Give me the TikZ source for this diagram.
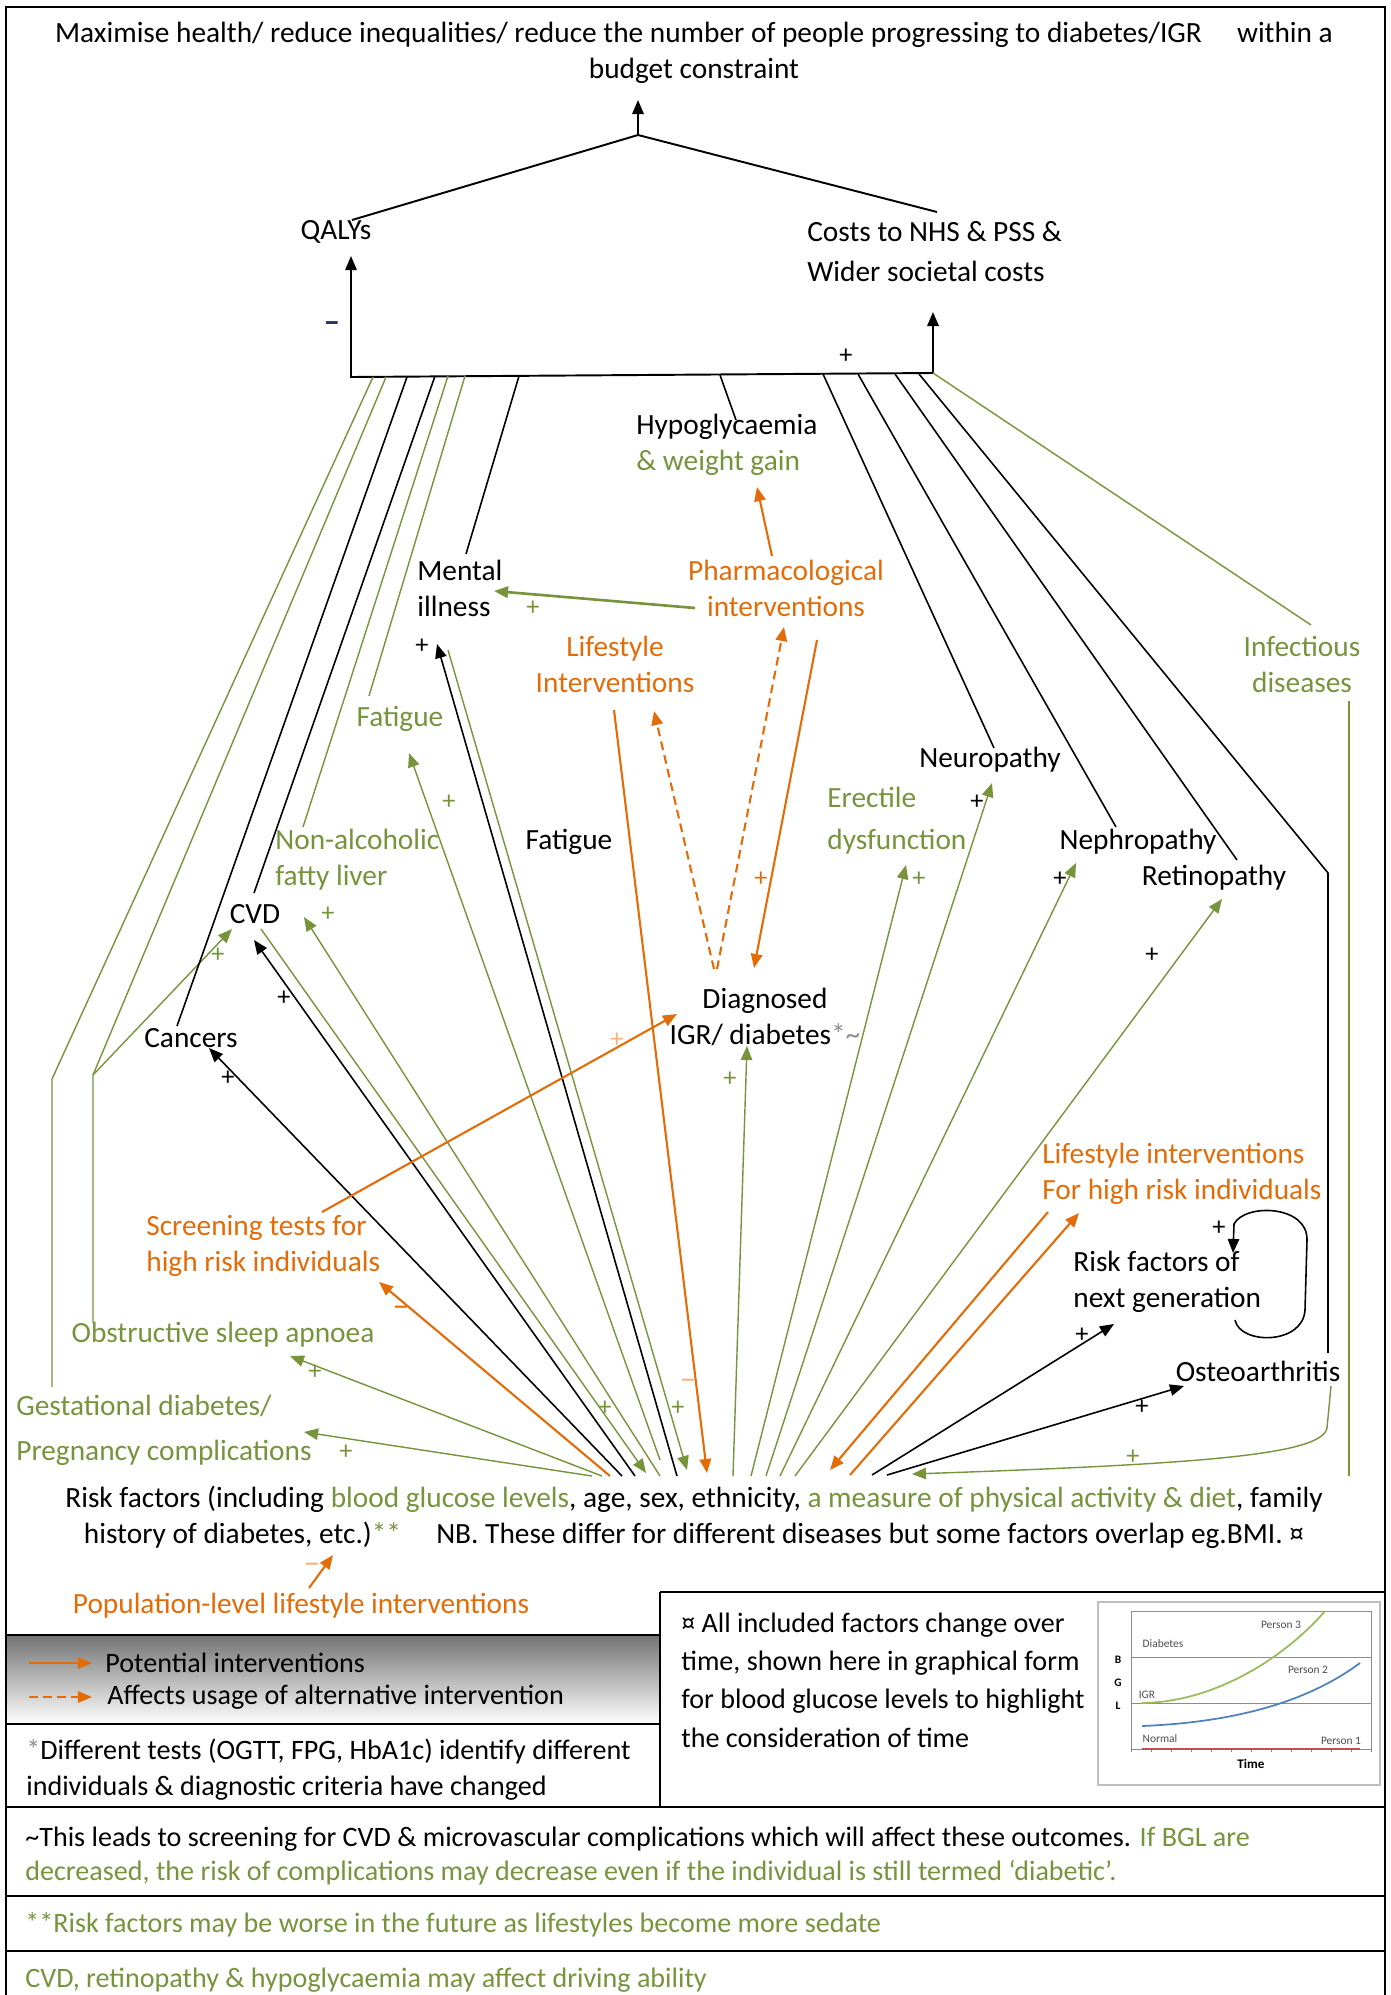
\documentclass[tikz,border=0pt]{standalone}
\usepackage{fontspec}
\setmainfont{Carlito}
\usetikzlibrary{arrows.meta}
\definecolor{grn}{HTML}{77933C}
\definecolor{org}{HTML}{E36C09}
\definecolor{lorg}{HTML}{F9B27C}
\definecolor{navy}{HTML}{1F3864}
\definecolor{pgrn}{HTML}{9BBB59}
\definecolor{pblu}{HTML}{4F81BD}
\definecolor{pred}{HTML}{C0504D}

\begin{document}
\begin{tikzpicture}[x=0.02cm,y=-0.02cm,
  every node/.style={font=\fontsize{16.7}{20.5}\selectfont,inner sep=0pt},
  note/.style={font=\fontsize{16}{20.5}\selectfont},
  kl/.style={black,line width=0.9pt},
  gl/.style={grn,line width=0.8pt},
  ol/.style={org,line width=1.2pt},
  dsh/.style={dash pattern=on 5pt off 3pt},
  tip/.style={-{Triangle[length=8pt,width=6.5pt]}},
  tips/.style={{Triangle[length=8pt,width=6.5pt]}-{Triangle[length=8pt,width=6.5pt]}},
  sg/.style={font=\fontsize{15}{15}\selectfont},
  boxline/.style={line width=1.2pt},
  tiny/.style={font=\fontsize{6.5}{7}\selectfont,black!70}]
\useasboundingbox (0,0) rectangle (1391,1995);

\node[align=center] (goal) at (694,53) {Maximise health/ reduce inequalities/ reduce the number of people progressing to diabetes/IGR\hspace{1.2em}within a\\budget constraint};
\node (qalys) at (336,232) {QALYs};
\node[anchor=west,align=left,font=\fontsize{16.7}{22.8}\selectfont] (costs) at (807,252) {Costs to NHS \& PSS \&\\Wider societal costs};
\node[anchor=west,align=left] (hypo) at (636,445) {Hypoglycaemia\\{\color{grn}\& weight gain}};
\node[anchor=west,align=left] (mental) at (417,588) {Mental\\illness};
\node[align=center,org] (pharma) at (786,588) {Pharmacological\\interventions};
\node[align=center,org] (lifeI) at (615,664) {Lifestyle\\Interventions};
\node[grn] (fatG) at (400,719) {Fatigue};
\node (fatK) at (569,842) {Fatigue};
\node[anchor=west,align=left,grn] (nafld) at (275,860) {Non-alcoholic\\fatty liver};
\node (cvd) at (255,914) {CVD};
\node (cancers) at (191,1038) {Cancers};
\node[anchor=west,align=left,grn,font=\fontsize{16.7}{24}\selectfont] (erect) at (827,821) {Erectile\\dysfunction};
\node (neuro) at (990,760) {Neuropathy};
\node (nephro) at (1138,842) {Nephropathy};
\node (retino) at (1214,878) {Retinopathy};
\node[align=center,grn] (infect) at (1302,664) {Infectious\\diseases};
\node[align=center] (diag) at (765,1017) {Diagnosed\\IGR/ diabetes{\color{black!45}*\textasciitilde}};
\node[anchor=west,align=left,org] (lifeH) at (1042,1174) {Lifestyle interventions\\For high risk individuals};
\node[anchor=west,align=left] (nextgen) at (1073,1282) {Risk factors of\\next generation};
\node (osteo) at (1258,1371) {Osteoarthritis};
\node[anchor=west,align=left,org] (screen) at (146,1246) {Screening tests for\\high risk individuals};
\node[grn] (osa) at (223,1335) {Obstructive sleep apnoea};
\node[anchor=west,align=left,grn,font=\fontsize{16.7}{25.5}\selectfont] (gest) at (16,1430) {Gestational diabetes/\\Pregnancy complications};
\node[align=center] (risk) at (694,1517) {Risk factors (including {\color{grn}blood glucose levels}, age, sex, ethnicity, {\color{grn}a measure of physical activity \& diet}, family\\history of diabetes, etc.){\color{grn}**}\hspace{1.2em}NB. These differ for different diseases but some factors overlap eg.BMI. ¤};
\node[org] (pop) at (301,1606) {Population-level lifestyle interventions};

\coordinate (join) at (638,135);
\coordinate (gtip) at (638,100);
\coordinate (qtop) at (352,220);
\coordinate (ctop) at (937,212);
\coordinate (barL) at (351,377);
\coordinate (barR) at (933,373);
\coordinate (qtip) at (351,256);
\coordinate (ctip) at (933,312);
\coordinate (bGest) at (373,377);
\coordinate (bOsa) at (386,377);
\coordinate (bCan) at (407,377);
\coordinate (bCvd) at (435,376);
\coordinate (bNaf) at (448,376);
\coordinate (bFat) at (465,376);
\coordinate (bMen) at (519,376);
\coordinate (bHyp) at (720,375);
\coordinate (bNeu) at (823,374);
\coordinate (bNep) at (858,374);
\coordinate (bRet) at (895,374);
\coordinate (bOst) at (919,374);
\coordinate (kGest) at (52,1079);
\coordinate (eGest) at (52,1387);
\coordinate (kOsa) at (93,1075);
\coordinate (eOsa) at (93,1323);
\coordinate (tCvdG) at (232,929);
\coordinate (eCan) at (177,1026);
\coordinate (eCvd) at (254,893);
\coordinate (eNaf) at (303,827);
\coordinate (eFat) at (369,696);
\coordinate (eMen) at (466,554);
\coordinate (eHyp) at (736,420);
\coordinate (eNeu) at (994,748);
\coordinate (eNep) at (1116,827);
\coordinate (eRet) at (1237,860);
\coordinate (kOst) at (1328,873);
\coordinate (eOst) at (1328,1353);
\coordinate (eInf) at (1311,625);
\coordinate (sInf) at (1349,701);
\coordinate (hInf) at (1349,1476);
\coordinate (sPhH) at (772,556);
\coordinate (tHyp) at (757,487);
\coordinate (sPhM) at (695,608);
\coordinate (tMen) at (494,591);
\coordinate (sPhD) at (817,640);
\coordinate (tDia) at (754,968);
\coordinate (dA) at (714,969);
\coordinate (dB) at (717,969);
\coordinate (tLif) at (654,711);
\coordinate (tPha) at (784,627);
\coordinate (sLif) at (614,710);
\coordinate (hLif) at (707,1473);
\coordinate (h1) at (592,1476);
\coordinate (h2) at (602,1476);
\coordinate (h3) at (610,1476);
\coordinate (h4) at (622,1476);
\coordinate (h5) at (635,1476);
\coordinate (h6) at (660,1476);
\coordinate (h7) at (660,1460);
\coordinate (h8) at (677,1476);
\coordinate (h9) at (733,1476);
\coordinate (h10) at (751,1476);
\coordinate (h11) at (766,1476);
\coordinate (h12) at (780,1476);
\coordinate (h13) at (795,1476);
\coordinate (h14) at (850,1475);
\coordinate (h15) at (872,1475);
\coordinate (h16) at (887,1475);
\coordinate (hCvd) at (646,1473);
\coordinate (hMen) at (687,1470);
\coordinate (hLH) at (830,1470);
\coordinate (hOst) at (912,1474);
\coordinate (tGest) at (304,1432);
\coordinate (tOsa) at (290,1356);
\coordinate (tScr) at (379,1282);
\coordinate (tCan) at (209,1048);
\coordinate (tCvd) at (254,940);
\coordinate (sCvd) at (261,929);
\coordinate (tNaf) at (304,917);
\coordinate (tFat) at (409,753);
\coordinate (tMenK) at (437,644);
\coordinate (sMen) at (448,650);
\coordinate (tDiaG) at (747,1046);
\coordinate (tEre) at (906,865);
\coordinate (tNeu) at (992,783);
\coordinate (tNep) at (1076,863);
\coordinate (tRet) at (1222,899);
\coordinate (sLH) at (1048,1212);
\coordinate (tLH) at (1079,1213);
\coordinate (tNext) at (1114,1324);
\coordinate (tOst) at (1184,1386);
\coordinate (sOst) at (1331,1386);
\coordinate (sScr) at (322,1212);
\coordinate (tDiaO) at (677,1014);
\coordinate (sPop) at (309,1588);
\coordinate (tRisk) at (333,1555);
\coordinate (sLoop) at (1235,1320);
\coordinate (tLoop) at (1233,1253);

\draw[kl,line width=1.1pt,tip] (join) -- (gtip);
\draw[kl,line width=1.1pt] (qtop) -- (join) -- (ctop);
\draw[kl,line width=1.1pt,tips] (qtip) -- (barL) -- (barR) -- (ctip);

\draw[gl] (bGest) -- (kGest) -- (eGest);
\draw[gl] (bOsa) -- (kOsa) -- (eOsa);
\draw[gl,tip] (kOsa) -- (tCvdG);
\draw[kl] (bCan) -- (eCan);
\draw[kl] (bCvd) -- (eCvd);
\draw[gl] (bNaf) -- (eNaf);
\draw[gl] (bFat) -- (eFat);
\draw[kl] (bMen) -- (eMen);
\draw[kl] (bHyp) -- (eHyp);
\draw[kl] (bNeu) -- (eNeu);
\draw[kl] (bNep) -- (eNep);
\draw[kl] (bRet) -- (eRet);
\draw[kl] (bOst) -- (kOst) -- (eOst);
\draw[gl] (barR) -- (eInf);
\draw[gl] (sInf) -- (hInf);

\draw[ol,tip] (sPhH) -- (tHyp);
\draw[grn,line width=1.5pt,tip] (sPhM) -- (tMen);
\draw[ol,tip] (sPhD) -- (tDia);
\draw[ol,dsh,tip] (dA) -- (tLif);
\draw[ol,dsh,tip] (dB) -- (tPha);
\draw[ol,tip] (sLif) -- (hLif);

\draw[gl,tip] (h1) -- (tGest);
\draw[gl,tip] (h2) -- (tOsa);
\draw[ol,tip] (h3) -- (tScr);
\draw[kl,tip] (h4) -- (tCan);
\draw[kl,tip] (h5) -- (tCvd);
\draw[gl,tip] (sCvd) -- (hCvd);
\draw[gl,tip] (h6) -- (tNaf);
\draw[gl,tip] (h7) -- (tFat);
\draw[kl,tip] (h8) -- (tMenK);
\draw[gl,tip] (sMen) -- (hMen);
\draw[gl,tip] (h9) -- (tDiaG);
\draw[gl,tip] (h10) -- (tEre);
\draw[gl,tip] (h11) -- (tNeu);
\draw[gl,tip] (h12) -- (tNep);
\draw[gl,tip] (h13) -- (tRet);
\draw[ol,tip] (sLH) -- (hLH);
\draw[ol,tip] (h14) -- (tLH);
\draw[kl,tip] (h15) -- (tNext);
\draw[kl,tip] (h16) -- (tOst);
\draw[gl,tip] (sOst) -- (1327,1428) .. controls (1322,1455) and (1200,1464) .. (hOst);
\draw[ol,tip] (sScr) -- (tDiaO);
\draw[ol,tip] (sPop) -- (tRisk);
\draw[kl,tip] (sLoop) .. controls (1240,1345) and (1303,1345) .. (1305,1310) -- (1307,1240) .. controls (1308,1205) and (1245,1203) .. (1234,1224) -- (tLoop);

\node[navy,font=\bfseries\fontsize{19}{19}\selectfont] (m1) at (332,327) {–};
\node[sg] (p1) at (846,356) {+};
\node[sg,grn] (p2) at (533,608) {+};
\node[sg,org] (p3) at (761,879) {+};
\node[sg] (p4) at (422,646) {+};
\node[sg,grn] (p5) at (449,802) {+};
\node[sg,grn] (p6) at (328,914) {+};
\node[sg,grn] (p7) at (218,955) {+};
\node[sg] (p8) at (284,998) {+};
\node[sg] (p9) at (228,1078) {+};
\node[sg,lorg] (p10) at (617,1040) {+};
\node[sg,grn] (p11) at (730,1079) {+};
\node[sg,grn] (p12) at (919,879) {+};
\node[sg] (p13) at (977,802) {+};
\node[sg] (p14) at (1060,879) {+};
\node[sg] (p15) at (1152,955) {+};
\node[sg] (p16) at (1219,1228) {+};
\node[sg] (p17) at (1082,1335) {+};
\node[sg] (p18) at (1142,1407) {+};
\node[sg,grn] (p19) at (1133,1457) {+};
\node[sg,grn] (p20) at (605,1408) {+};
\node[sg,grn] (p21) at (678,1408) {+};
\node[lorg,font=\fontsize{19}{19}\selectfont] (m2) at (688,1384) {–};
\node[org,font=\fontsize{19}{19}\selectfont] (m3) at (401,1311) {–};
\node[sg,grn] (p22) at (315,1372) {+};
\node[sg,grn] (p23) at (346,1452) {+};
\node[lorg,font=\fontsize{19}{19}\selectfont] (m4) at (312,1568) {–};

\shade[top color=black!55,bottom color=white] (6,1635) rectangle (660,1724);
\draw[boxline] (6,1995) -- (6,7) -- (1385,7) -- (1385,1995);
\draw[boxline] (6,1635) -- (660,1635) (660,1592) -- (1385,1592) (660,1592) -- (660,1807)
  (6,1724) -- (660,1724) (6,1807) -- (1385,1807) (6,1896) -- (1385,1896) (6,1951) -- (1385,1951);

\coordinate (lg1) at (29,1663);
\coordinate (lg1e) at (92,1663);
\coordinate (lg2) at (29,1697);
\coordinate (lg2e) at (92,1697);
\draw[org,line width=1pt,tip] (lg1) -- (lg1e);
\draw[org,line width=1pt,dsh,tip] (lg2) -- (lg2e);
\node[note,anchor=west] (leg1) at (105,1663) {Potential interventions};
\node[note,anchor=west] (leg2) at (107,1697) {Affects usage of alternative intervention};
\node[note,anchor=west,align=left] (star) at (26,1770) {{\color{black!45}*}Different tests (OGTT, FPG, HbA1c) identify different\\individuals \& diagnostic criteria have changed};
\node[anchor=west,align=left,font=\fontsize{16}{21.8}\selectfont] (timenote) at (681,1680) {¤ All included factors change over\\time, shown here in graphical form\\for blood glucose levels to highlight\\the consideration of time};
\node[anchor=west,align=left,font=\fontsize{16}{19}\selectfont] (tilde) at (25,1856) {\textasciitilde This leads to screening for CVD \& microvascular complications which will affect these outcomes. {\color{grn}If BGL are}\\{\color{grn}decreased, the risk of complications may decrease even if the individual is still termed ‘diabetic’.}};
\node[note,anchor=west,grn] (dstar) at (25,1925) {**Risk factors may be worse in the future as lifestyles become more sedate};
\node[note,anchor=west,grn] (drive) at (25,1980) {CVD, retinopathy \& hypoglycaemia may affect driving ability};

\draw[black!25,line width=0.8pt] (1098,1602) rectangle (1380,1785);
\draw[black!45,line width=0.5pt] (1131,1611) rectangle (1371,1749);
\draw[black!45,line width=0.5pt] (1131,1657) -- (1371,1657) (1131,1703) -- (1371,1703);
\foreach \t in {0,...,12} \draw[black!50,line width=0.3pt] (1131+\t*20,1749) -- ++(0,3);
\draw[pred,line width=1pt] (1142,1749) -- (1360,1749);
\draw[pblu,line width=1pt] (1142,1726) .. controls (1240,1722) and (1310,1700) .. (1360,1663);
\draw[pgrn,line width=1pt] (1142,1703) .. controls (1220,1702) and (1290,1652) .. (1325,1611);
\node[tiny] (gDia) at (1163,1644) {Diabetes};
\node[tiny] (gIgr) at (1147,1695) {IGR};
\node[tiny] (gNor) at (1160,1739) {Normal};
\node[tiny] (gP1) at (1341,1741) {Person 1};
\node[tiny] (gP2) at (1308,1670) {Person 2};
\node[tiny] (gP3) at (1281,1625) {Person 3};
\node[tiny,black,font=\bfseries\fontsize{6.5}{7}\selectfont] (gB) at (1118,1660) {B};
\node[tiny,black,font=\bfseries\fontsize{6.5}{7}\selectfont] (gG) at (1118,1683) {G};
\node[tiny,black,font=\bfseries\fontsize{6.5}{7}\selectfont] (gL) at (1118,1706) {L};
\node[black,font=\bfseries\fontsize{7.5}{8}\selectfont] (gT) at (1251,1764) {Time};
\end{tikzpicture}
\end{document}
